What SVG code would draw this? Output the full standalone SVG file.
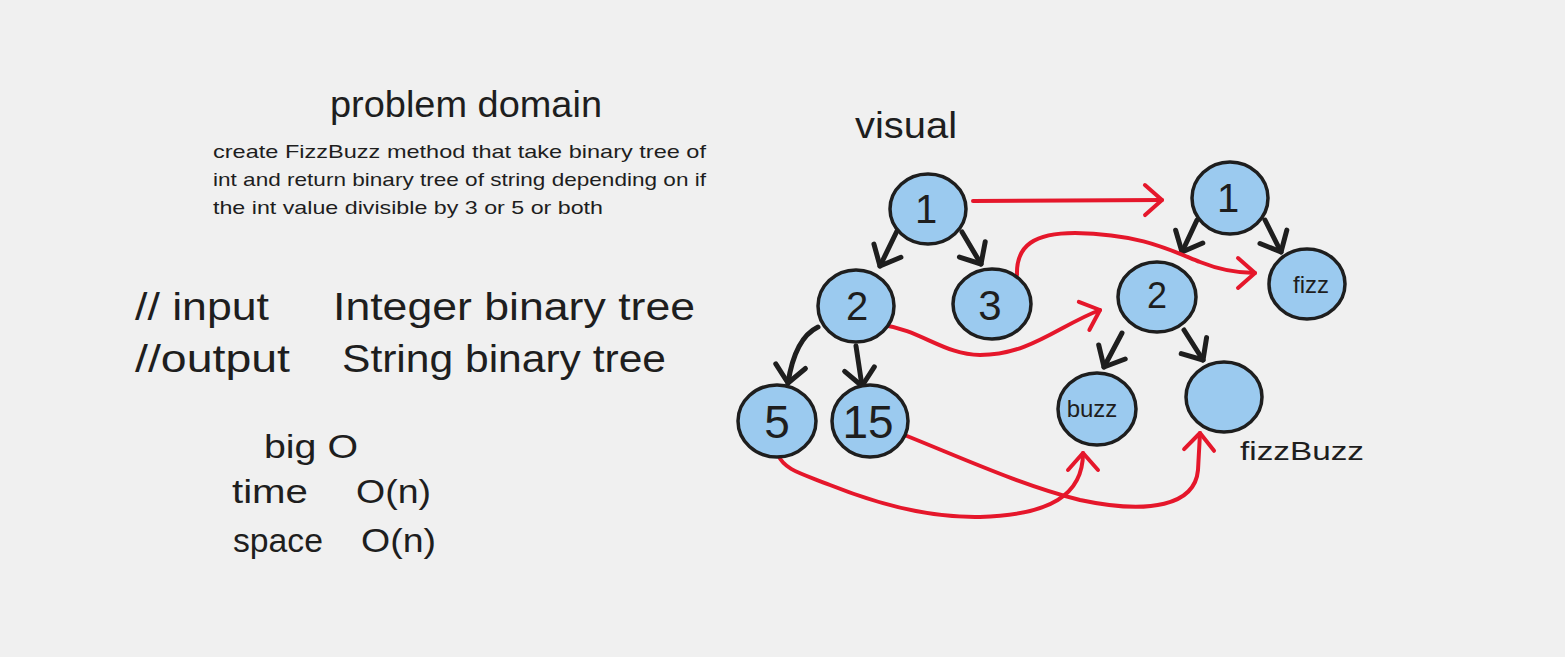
<svg xmlns="http://www.w3.org/2000/svg" width="1565" height="657" viewBox="0 0 1565 657">
<style>
.t{font-family:"Liberation Sans","DejaVu Sans",sans-serif;fill:#1e1e1e;}
.node{fill:#9bcaef;stroke:#1e1e1e;stroke-width:3.5;}
.lbl{font-family:"Liberation Sans","DejaVu Sans",sans-serif;fill:#1e1e1e;text-anchor:middle;}
.blk{fill:none;stroke:#1e1e1e;stroke-width:5;stroke-linecap:round;stroke-linejoin:round;marker-end:url(#ahb);}
.red{fill:none;stroke:#e5172b;stroke-width:4;stroke-linecap:round;stroke-linejoin:round;marker-end:url(#ahr);}
</style>
<defs>
<marker id="ahb" markerUnits="userSpaceOnUse" viewBox="-25 -20 30 40" refX="0" refY="0" markerWidth="30" markerHeight="40" orient="auto" overflow="visible">
<path d="M-17,-15 L0,0 L-17,15" fill="none" stroke="#1e1e1e" stroke-width="5" stroke-linecap="round" stroke-linejoin="round"/>
</marker>
<marker id="ahr" markerUnits="userSpaceOnUse" viewBox="-25 -20 30 40" refX="0" refY="0" markerWidth="30" markerHeight="40" orient="auto" overflow="visible">
<path d="M-17,-15 L0,0 L-17,15" fill="none" stroke="#e5172b" stroke-width="4" stroke-linecap="round" stroke-linejoin="round"/>
</marker>
</defs>
<rect width="1565" height="657" fill="#f0f0f0"/>

<g id="texts">
<text class="t" x="330" y="117" font-size="36" textLength="272" lengthAdjust="spacingAndGlyphs">problem domain</text>
<text class="t" x="213" y="158" font-size="19" textLength="493" lengthAdjust="spacingAndGlyphs">create FizzBuzz method that take binary tree of</text>
<text class="t" x="213" y="186" font-size="19" textLength="493" lengthAdjust="spacingAndGlyphs">int and return binary tree of string depending on if</text>
<text class="t" x="213" y="214" font-size="19" textLength="390" lengthAdjust="spacingAndGlyphs">the int value  divisible by 3 or 5 or both</text>
<text class="t" x="135" y="320" font-size="38" textLength="134" lengthAdjust="spacingAndGlyphs">// input</text>
<text class="t" x="333" y="320" font-size="38" textLength="362" lengthAdjust="spacingAndGlyphs">Integer binary tree</text>
<text class="t" x="135" y="372" font-size="38" textLength="155" lengthAdjust="spacingAndGlyphs">//output</text>
<text class="t" x="342" y="372" font-size="38" textLength="324" lengthAdjust="spacingAndGlyphs">String binary tree</text>
<text class="t" x="264" y="458" font-size="34" textLength="94" lengthAdjust="spacingAndGlyphs">big O</text>
<text class="t" x="232" y="503" font-size="34" textLength="76" lengthAdjust="spacingAndGlyphs">time</text>
<text class="t" x="356" y="503" font-size="34" textLength="75" lengthAdjust="spacingAndGlyphs">O(n)</text>
<text class="t" x="233" y="552" font-size="34" textLength="90" lengthAdjust="spacingAndGlyphs">space</text>
<text class="t" x="361" y="552" font-size="34" textLength="75" lengthAdjust="spacingAndGlyphs">O(n)</text>
<text class="t" x="855" y="138" font-size="36" textLength="102" lengthAdjust="spacingAndGlyphs">visual</text>
<text class="t" x="1240" y="460" font-size="26" textLength="124" lengthAdjust="spacingAndGlyphs">fizzBuzz</text>
</g>

<g id="connectors">
<path class="blk" d="M897,231 L880,266"/>
<path class="blk" d="M962,232 L981,264"/>
<path class="blk" d="M818,327 Q795,338 788,383"/>
<path class="blk" d="M856,346 L862,386"/>
<path class="blk" d="M1197,220 L1182,252"/>
<path class="blk" d="M1265,220 L1281,252"/>
<path class="blk" d="M1122,333 L1104,367"/>
<path class="blk" d="M1184,330 L1203,360"/>
<path class="red" d="M973,201 L1162,200"/>
<path class="red" d="M1017,275 C1016,245 1035,233 1075,233 C1140,234 1170,250 1200,262 C1220,270 1235,273 1255,273"/>
<path class="red" d="M883,325 C920,330 945,355 980,355 C1030,355 1060,325 1100,310"/>
<path class="red" d="M778,455 C785,470 800,473 830,485 C880,505 930,518 980,517 C1050,515 1083,495 1083,453"/>
<path class="red" d="M897,432 C960,457 1020,485 1080,500 C1150,515 1195,505 1198,470 L1200,433"/>
</g>

<g id="n-l1"><ellipse class="node" cx="928" cy="209" rx="38" ry="35"/><text class="lbl" x="926" y="223" font-size="40">1</text></g>
<g id="n-l2"><ellipse class="node" cx="856" cy="306" rx="38" ry="36"/><text class="lbl" x="857" y="320" font-size="40">2</text></g>
<g id="n-l3"><ellipse class="node" cx="992" cy="304" rx="39" ry="35"/><text class="lbl" x="990" y="320" font-size="42">3</text></g>
<g id="n-l5"><ellipse class="node" cx="777" cy="421" rx="39" ry="36"/><text class="lbl" x="777" y="438" font-size="46">5</text></g>
<g id="n-l15"><ellipse class="node" cx="870" cy="421" rx="38" ry="36"/><text class="lbl" x="868" y="438" font-size="46">15</text></g>
<g id="n-r1"><ellipse class="node" cx="1230" cy="198" rx="38" ry="36"/><text class="lbl" x="1228" y="212" font-size="40">1</text></g>
<g id="n-fizz"><ellipse class="node" cx="1307" cy="284" rx="38" ry="35"/><text class="lbl" x="1311" y="293" font-size="24">fizz</text></g>
<g id="n-r2"><ellipse class="node" cx="1157" cy="297" rx="39" ry="35"/><text class="lbl" x="1157" y="308" font-size="36">2</text></g>
<g id="n-buzz"><ellipse class="node" cx="1097" cy="409" rx="39" ry="36"/><text class="lbl" x="1092" y="417" font-size="24">buzz</text></g>
<g id="n-empty"><ellipse class="node" cx="1224" cy="397" rx="38" ry="35"/></g>
</svg>
